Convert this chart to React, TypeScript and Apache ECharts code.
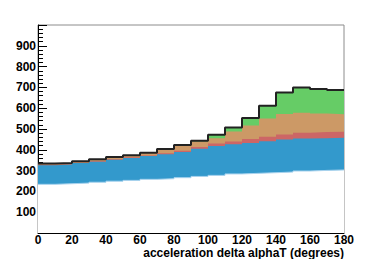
import React, { useEffect, useRef } from "react";
import * as echarts from "echarts";

// bin edges (degrees), 18 bins of 10 degrees
const binEdges = [0, 10, 20, 30, 40, 50, 60, 70, 80, 90, 100, 110, 120, 130, 140, 150, 160, 170, 180];

// stacked components per bin, bottom to top
const baseCounts = [234, 237, 240, 244, 249, 253, 258, 261, 266, 272, 277, 284, 287, 290, 293, 298, 301, 303];
const blueCounts = [92, 92, 96, 99, 103, 108, 112, 118, 124, 133, 141, 143, 146, 151, 157, 156, 155, 155];
const redCounts = [2, 2, 2, 2, 3, 3, 3, 4, 6, 9, 12, 13, 19, 22, 24, 28, 29, 29];
const brownCounts = [6, 6, 7, 9, 10, 10, 12, 19, 25, 26, 26, 48, 65, 88, 98, 96, 89, 84];
const greenCounts = [0, 0, 0, 0, 0, 0, 1, 2, 2, 3, 16, 19, 36, 61, 104, 122, 118, 117];

const xTitle = "acceleration delta alphaT (degrees)";

const FONT = '"Liberation Sans", Arial, Helvetica, sans-serif';

function cumulative(layers: number[][]): number[] {
  return layers[0].map((_, i) => layers.reduce((s, l) => s + l[i], 0));
}

function stepData(values: number[]): number[][] {
  return binEdges.map((e, i) => [e, values[Math.min(i, values.length - 1)]]);
}

export default function App() {
  const ref = useRef<HTMLDivElement>(null);
  useEffect(() => {
    if (!ref.current) return;
    const chart = echarts.init(ref.current, undefined, { renderer: "svg" });
    const cumBase = cumulative([baseCounts]);
    const cumBlue = cumulative([baseCounts, blueCounts]);
    const cumRed = cumulative([baseCounts, blueCounts, redCounts]);
    const cumBrown = cumulative([baseCounts, blueCounts, redCounts, brownCounts]);
    const cumTotal = cumulative([baseCounts, blueCounts, redCounts, brownCounts, greenCounts]);

    const areaSeries = (name: string, vals: number[], color: string, line?: any) => ({
      name,
      type: "line",
      step: "end",
      symbol: "none",
      data: stepData(vals),
      lineStyle: line || { width: 0 },
      areaStyle: { color, opacity: 1, origin: "start" },
      silent: true,
    });

    chart.setOption({
      animation: false,
      backgroundColor: "#ffffff",
      grid: {
        left: 38,
        right: 38,
        top: 25,
        bottom: 26,
        show: true,
        borderColor: "#8c8c8c",
        borderWidth: 1,
        backgroundColor: "transparent",
      },
      xAxis: {
        type: "value",
        min: 0,
        max: 180,
        interval: 20,
        axisLine: { show: true, lineStyle: { color: "#000", width: 1 } },
        axisTick: { show: false },
        splitLine: { show: false },
        axisLabel: {
          color: "#000",
          fontFamily: FONT,
          fontWeight: "bold",
          fontSize: 12,
          lineHeight: 12,
          margin: 1,
          showMinLabel: true,
          showMaxLabel: true,
        },
      },
      yAxis: {
        type: "value",
        min: 0,
        max: 1000,
        interval: 100,
        axisLine: { show: true, lineStyle: { color: "#000", width: 1 } },
        axisTick: { show: true, inside: true, length: 9, lineStyle: { color: "#000" } },
        minorTick: { show: true, splitNumber: 5, length: 5, lineStyle: { color: "#000" } },
        splitLine: { show: false },
        axisLabel: {
          color: "#000",
          fontFamily: FONT,
          fontWeight: "bold",
          fontSize: 12,
          lineHeight: 12,
          margin: 2,
          formatter: (v: number) => (v === 0 || v === 1000 ? "" : String(v)),
        },
      },
      series: [
        areaSeries("green", cumTotal, "#66cc66"),
        areaSeries("brown", cumBrown, "#cc9966"),
        areaSeries("red", cumRed, "#cc6666"),
        areaSeries("blue", cumBlue, "#3399cc"),
        areaSeries("base", cumBase, "#ffffff", { width: 1, color: "#a9d3ee" }),
        {
          name: "outline",
          type: "line",
          step: "end",
          symbol: "none",
          data: stepData(cumTotal),
          lineStyle: { width: 2, color: "#222222" },
          silent: true,
        },
      ],
      graphic: [
        {
          type: "text",
          right: 38,
          top: 247,
          style: {
            text: xTitle,
            fill: "#000",
            font: `bold 12px ${FONT}`,
            lineHeight: 12,
          },
        },
      ],
    });
    return () => chart.dispose();
  }, []);
  return (
    <div
      ref={ref}
      style={{ position: "fixed", left: 0, top: 0, width: 382, height: 259 }}
    />
  );
}
